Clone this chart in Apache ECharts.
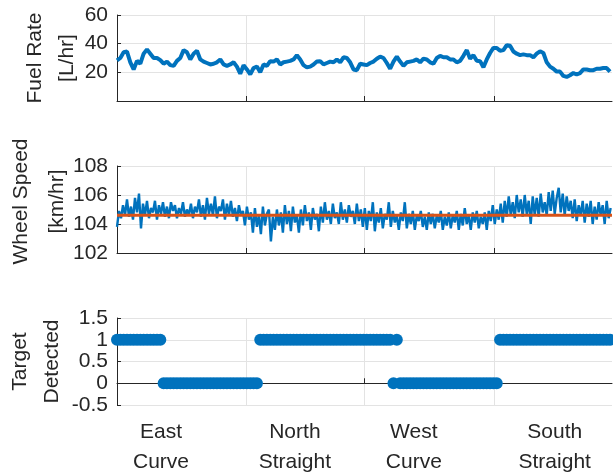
<!DOCTYPE html>
<html>
<head>
<meta charset="utf-8">
<script src="https://cdn.jsdelivr.net/npm/echarts@6/dist/echarts.min.js"></script>
<style>
  html, body { margin: 0; padding: 0; background: #fff; }
  #chart { width: 613px; height: 475px; }
</style>
</head>
<body>
<div id="chart"></div>
<script>
// Route positions: one unit per fuel-rate sample along the drive.
const routeLength = 148.6;
const segmentBounds = [38.7, 74.1, 113.4];
const segmentLabelPos = [13.2, 53.4, 89.1, 131.4];
const segmentLabels = ['East\nCurve', 'North\nStraight', 'West\nCurve', 'South\nStraight'];

// Fuel rate [L/hr], one sample per unit of route position.
const fuelRate = [
  28.3, 30, 34, 34.5, 27, 22, 28, 26, 33, 36, 33, 30, 30, 28.5, 26, 27.5, 25, 24.5, 28, 30,
  35.5, 34, 29, 33, 35, 29, 27.5, 26.5, 25.5, 26, 27, 29, 25.5, 24.5, 25.5, 27, 24, 19, 25,
  22, 18.6, 23, 24, 20, 25.5, 24.5, 27.8, 27.5, 29, 25.5, 27, 27.5, 28, 29, 32, 29, 25, 23.5,
  24, 25.5, 27.5, 27.8, 25.5, 26.5, 27.5, 27, 29, 27, 30.5, 30, 27, 22, 21.5, 26, 25.5, 25,
  26.5, 27.5, 29.5, 31, 30, 26.5, 22.5, 27.5, 31, 27.5, 24.5, 27, 27.5, 28, 29, 27, 29.5, 29,
  27, 26, 30, 31.5, 30.5, 30.5, 29, 29, 27, 28, 31.5, 35.5, 29.5, 32, 28, 27.8, 23.5, 29, 33.5,
  37, 37, 35, 35.5, 39, 38.5, 34.5, 33, 32, 32.5, 32, 32, 30.5, 33, 34.7, 33.5, 27, 24, 22.5,
  20.5, 20.5, 17.5, 16.8, 18, 19.5, 18.5, 19.5, 22, 22, 21.5, 21.5, 22.5, 22.5, 23, 23, 20.5
];

// Wheel speed [km/hr], sampled every 0.6 units of route position.
const speedStep = 0.6;
const wheelSpeed = [
  103.8, 104.9, 104.4, 105.3, 104.6, 105.7, 104.5, 105.2, 104.3, 105.8, 104.8, 106.1,
  103.7, 105.4, 104.6, 105.6, 104.4, 105.1, 104.8, 105.6, 104.3, 105.3, 104.7, 105.5,
  104.5, 105.2, 104.4, 105.5, 104.9, 105.3, 104.4, 105.1, 104.7, 105.5, 104.5, 105.0,
  104.6, 105.4, 104.4, 105.2, 104.8, 105.7, 104.5, 105.3, 104.3, 105.8, 104.7, 105.4,
  104.6, 105.9, 104.4, 105.2, 104.9, 105.7, 104.3, 105.4, 104.6, 105.6, 104.5, 105.1,
  104.2, 105.3, 104.6, 104.9, 103.9, 105.2, 104.3, 104.8, 103.4, 105.1, 103.8, 104.6,
  103.3, 105.2, 103.9, 104.7, 105.0, 102.8, 104.5, 103.6, 105.0, 103.9, 104.8, 103.4,
  105.3, 104.0, 104.9, 103.5, 105.2, 104.1, 104.6, 103.4, 105.0, 103.9, 105.3, 104.2,
  104.8, 103.6, 105.1, 104.3, 104.7, 103.5, 105.2, 104.1, 105.5, 104.3, 104.9, 104.0,
  105.4, 104.4, 104.8, 104.0, 105.5, 104.3, 105.0, 104.1, 105.3, 104.5, 104.9, 104.0,
  105.4, 104.2, 105.0, 103.8, 105.1, 103.6, 104.9, 104.2, 105.5, 103.5, 104.8, 104.1,
  105.1, 103.7, 104.7, 104.3, 105.5, 103.8, 104.9, 104.1, 104.6, 103.6, 104.8, 104.2,
  105.5, 103.7, 104.7, 104.0, 104.9, 103.6, 104.6, 104.2, 104.9, 103.8, 104.5, 103.6,
  104.8, 104.0, 104.7, 103.7, 104.6, 104.1, 104.9, 103.6, 104.5, 103.9, 104.8, 103.7,
  104.6, 104.1, 104.9, 103.6, 104.7, 103.9, 105.1, 104.0, 104.6, 103.6, 104.8, 104.1,
  104.9, 103.7, 104.5, 104.0, 104.8, 103.6, 104.9, 104.2, 105.3, 104.0, 105.0, 104.3,
  105.4, 104.1, 105.6, 104.5, 105.9, 104.6, 105.5, 104.4, 106.0, 104.8, 105.7, 104.5,
  106.0, 104.7, 105.6, 104.0, 105.9, 104.6, 105.8, 104.5, 106.1, 104.8, 105.5, 104.6,
  106.2, 104.9, 106.3, 104.7, 105.8, 106.5, 104.8, 106.1, 104.6, 105.9, 104.9, 105.6,
  104.4, 105.7, 104.2, 105.3, 104.6, 105.6, 104.1, 105.4, 104.5, 105.6, 104.0, 105.2,
  104.3, 105.5, 104.6, 105.3, 104.0, 105.6, 104.4, 105.1
];
// Reference (set) speed [km/hr].
const setSpeed = 104.6;

// Target detection flag, one sample per unit of route position.
const targetDetected = [
  1, 1, 1, 1, 1, 1, 1, 1, 1, 1, 1, 1, 1, 1,
  0, 0, 0, 0, 0, 0, 0, 0, 0, 0, 0, 0, 0, 0, 0, 0, 0, 0, 0, 0, 0, 0, 0, 0, 0, 0, 0, 0, 0,
  1, 1, 1, 1, 1, 1, 1, 1, 1, 1, 1, 1, 1, 1, 1, 1, 1, 1, 1, 1,
  1, 1, 1, 1, 1, 1, 1, 1, 1, 1, 1, 1, 1, 1, 1, 1, 1, 1, 1, 1,
  0, 1,
  0, 0, 0, 0, 0, 0, 0, 0, 0, 0, 0, 0, 0, 0, 0, 0, 0, 0, 0, 0, 0, 0, 0, 0, 0, 0, 0, 0, 0, 0,
  1, 1, 1, 1, 1, 1, 1, 1, 1, 1, 1, 1, 1, 1, 1, 1, 1, 1, 1, 1, 1, 1, 1, 1, 1, 1, 1, 1, 1, 1,
  1, 1, 1, 1
];

const BLUE = '#0072BD';
const ORANGE = '#D95319';
const INK = '#262626';
const GRID = '#e3e3e3';
const FONT = 'Liberation Sans, Arial, sans-serif';
const FS = 21;

function xAxisFor(idx, withLabels) {
  return {
    type: 'value', gridIndex: idx, min: 0, max: routeLength,
    axisLine: { show: true, lineStyle: { color: INK, width: 1 } },
    axisTick: { show: true, inside: true, length: 5, customValues: segmentBounds,
                lineStyle: { color: INK } },
    splitLine: { show: true, lineStyle: { color: GRID, width: 1 } },
    axisLabel: {
      show: withLabels, customValues: segmentLabelPos,
      formatter: v => {
        let best = 0;
        segmentLabelPos.forEach((p, k) => {
          if (Math.abs(p - v) < Math.abs(segmentLabelPos[best] - v)) best = k;
        });
        return segmentLabels[best];
      },
      color: INK, fontFamily: FONT, fontSize: FS, lineHeight: 30, margin: 12
    }
  };
}

function yAxisFor(idx, opts) {
  return Object.assign({
    type: 'value', gridIndex: idx,
    nameLocation: 'middle', nameRotate: 90, nameMoveOverlap: false,
    nameTextStyle: { color: INK, fontFamily: FONT, fontSize: FS, lineHeight: 32 },
    axisLine: { show: true, lineStyle: { color: INK, width: 1 } },
    axisTick: { show: true, inside: true, length: 4, lineStyle: { color: INK } },
    splitLine: { show: true, lineStyle: { color: GRID, width: 1 } },
    axisLabel: { color: INK, fontFamily: FONT, fontSize: FS, margin: 9 }
  }, opts);
}

const chart = echarts.init(document.getElementById('chart'), null, { renderer: 'canvas' });

const gridBase = { left: 117, right: 1, containLabel: false, outerBoundsMode: 'none' };

chart.setOption({
  animation: false,
  backgroundColor: '#fff',
  grid: [
    Object.assign({ top: 15, height: 86 }, gridBase),
    Object.assign({ top: 166, height: 87 }, gridBase),
    Object.assign({ top: 318, height: 87 }, gridBase)
  ],
  xAxis: [xAxisFor(0, false), xAxisFor(1, false), xAxisFor(2, true)],
  yAxis: [
    yAxisFor(0, { min: 0, max: 60, interval: 20, name: 'Fuel Rate\n[L/hr]', nameGap: 34,
                  axisLabel: { color: INK, fontFamily: FONT, fontSize: FS, margin: 9, showMinLabel: false } }),
    yAxisFor(1, { min: 102, max: 108, interval: 2, name: 'Wheel Speed\n[km/hr]', nameGap: 42,
                  nameTextStyle: { color: INK, fontFamily: FONT, fontSize: FS, lineHeight: 36,
                                   padding: [0, 0, 0, 16] } }),
    yAxisFor(2, { min: -0.5, max: 1.5, interval: 0.5, name: 'Target\nDetected', nameGap: 49 })
  ],
  series: [
    {
      type: 'line', xAxisIndex: 0, yAxisIndex: 0, showSymbol: false,
      lineStyle: { color: BLUE, width: 4 },
      data: fuelRate.map((v, i) => [i, v])
    },
    {
      type: 'line', xAxisIndex: 1, yAxisIndex: 1, showSymbol: false,
      lineStyle: { color: BLUE, width: 2.4 },
      data: wheelSpeed.map((v, j) => [j * speedStep, v])
    },
    {
      type: 'line', xAxisIndex: 1, yAxisIndex: 1, showSymbol: false,
      lineStyle: { color: ORANGE, width: 3 },
      data: [[0, setSpeed], [routeLength, setSpeed]]
    },
    {
      type: 'scatter', xAxisIndex: 2, yAxisIndex: 2, clip: false,
      symbol: 'circle', symbolSize: 12,
      itemStyle: { color: BLUE, opacity: 1 },
      data: targetDetected.map((v, i) => [i, v])
    }
  ]
});
</script>
</body>
</html>
